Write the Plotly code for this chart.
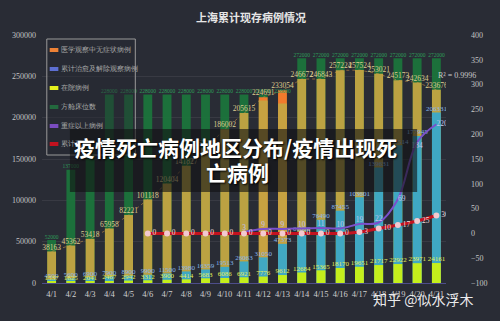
import plotly.graph_objects as go

# ---------------- data ----------------
dates = ["4/1", "4/2", "4/3", "4/4", "4/5", "4/6", "4/7", "4/8", "4/9", "4/10", "4/11",
         "4/12", "4/13", "4/14", "4/15", "4/16", "4/17", "4/18", "4/19", "4/20", "4/21"]
existing = [38163, 45362, 53418, 65958, 82221, 101118, 120404, 141827, 163000, 186002, 205615,
            224691, 233054, 246672, 246843, 257224, 257524, 253021, 245173, 242634, 233676]
asymptomatic_obs = [0, 0, 0, 0, 0, 0, 0, 0, 0, 0, 0,
                    4000, 16000, 0, 0, 0, 0, 0, 0, 0, 0]
capacity = [52000, 137000, 165000, 228000, 228000, 228000, 228000, 228000, 228000, 228000, 228000,
            228000, 228000, 272000, 272000, 272000, 272000, 272000, 272000, 272000, 272000]
cured = [4500, 5600, 6900, 7900, 8900, 9900, 11500, 13980, 16359, 19513, 26063,
         31050, 47373, 61000, 76490, 87455, 103601, 139631, 166514, 177945, 206331]
hospital = [1537, 1825, 2041, 2467, 2942, 3312, 3900, 4414, 5683, 6086, 6921,
            7776, 9612, 12684, 15365, 18170, 19651, 21717, 22922, 23971, 24161]
severe = [None] * 10 + [3, 9, 9, 10, 11, 10, 19, 22, 69, 184, 220]
deaths = [None] * 5 + [0, 0, 0, 0, 0, 0, 0, 0, 0, 0, 0, 3, 10, 17, 25, 36]

left_ticks = [0, 50000, 100000, 150000, 200000, 250000, 300000]
right_ticks = [-100, -50, 0, 50, 100, 150, 200, 250, 300, 350, 400]

legend_names = ["医学观察中无症状病例", "累计治愈及解除观察病例", "在院病例",
                "方舱床位数", "重症以上病例", "累计死亡"]
legend_colors = ["#ee8236", "#5d6fd2", "#e6f21e", "#23693e", "#7a4cc0", "#c3121f"]

title_text = "上海累计现存病例情况"
banner_line1 = "疫情死亡病例地区分布/疫情出现死"
banner_line2 = "亡病例"
watermark = "知乎 @似水浮木"
r2_text = "R² = 0.9996"

# ---------------- layout helpers ----------------
W, H = 500, 321
ML, MR, MT, MB = 38, 42, 35, 38
PW, PH = W - ML - MR, H - MT - MB


def px_x(px):
    return (px - ML) / PW


def px_y(py):
    return (H - MB - py) / PH


SERIF = "Liberation Serif, DejaVu Serif, serif"
CJK = "Noto Sans CJK SC, sans-serif"
BW = 0.46

fig = go.Figure()

# bars (overlay)
fig.add_bar(x=dates, y=capacity, width=BW, marker=dict(color="rgba(27,118,60,0.92)", line_width=0),
            name="方舱床位数", showlegend=False, hoverinfo="skip")
orange_y = [e if a > 0 else None for e, a in zip(existing, asymptomatic_obs)]
fig.add_bar(x=dates, y=orange_y, width=BW, marker=dict(color="#f07a2c", line_width=0),
            name="医学观察中无症状病例", showlegend=False, hoverinfo="skip")
gold_y = [e - a for e, a in zip(existing, asymptomatic_obs)]
fig.add_bar(x=dates, y=gold_y, width=BW, marker=dict(color="rgba(196,164,66,0.95)", line_width=0),
            name="现存", showlegend=False, hoverinfo="skip")
fig.add_bar(x=dates, y=cured, width=BW, marker=dict(color="rgba(50,168,210,0.9)", line_width=0),
            name="累计治愈及解除观察病例", showlegend=False, hoverinfo="skip")
fig.add_bar(x=dates, y=hospital, width=BW, marker=dict(color="#c4ee1c", line_width=0),
            name="在院病例", showlegend=False, hoverinfo="skip")

# dotted connecting line over totals
fig.add_scatter(x=dates, y=existing, mode="lines",
                line=dict(color="rgba(214,150,70,0.55)", width=1, dash="dot"),
                showlegend=False, hoverinfo="skip")

# labels
fig.add_scatter(x=dates, y=capacity, mode="text", text=[str(v) for v in capacity],
                textposition="top center", textfont=dict(size=5.5, color="#2e9e5a", family=SERIF),
                showlegend=False, hoverinfo="skip")
fig.add_scatter(x=dates, y=existing, mode="text", text=[str(v) for v in existing],
                textposition="top center", textfont=dict(size=7.5, color="#dccb8e", family=SERIF),
                showlegend=False, hoverinfo="skip")
fig.add_scatter(x=dates, y=cured, mode="text", text=[str(v) for v in cured],
                textposition="top center", textfont=dict(size=7, color="#88b6ea", family=SERIF),
                showlegend=False, hoverinfo="skip")
fig.add_scatter(x=dates, y=hospital, mode="text", text=[str(v) for v in hospital],
                textposition="top center", textfont=dict(size=7, color="#e2ef58", family=SERIF),
                showlegend=False, hoverinfo="skip")

# lines on right axis
sev_pos = ["top center"] * 18 + ["middle right", "bottom center", "middle right"]
fig.add_scatter(x=dates, y=severe, yaxis="y2", mode="lines+text",
                line=dict(color="#7b50cc", width=2, shape="spline"),
                text=["" if v is None else str(v) for v in severe], textposition=sev_pos,
                textfont=dict(size=7.5, color="#c4c4ee", family=SERIF),
                showlegend=False, hoverinfo="skip")
fig.add_scatter(x=dates, y=deaths, yaxis="y2", mode="lines+markers+text",
                line=dict(color="#c3121f", width=3, shape="spline"),
                marker=dict(size=6, color="#f2c9cf"),
                text=["" if v is None else str(v) for v in deaths], textposition="middle right",
                textfont=dict(size=7.5, color="#f0dede", family=SERIF),
                showlegend=False, hoverinfo="skip")

# ---------------- shapes & annotations ----------------
shapes = []
annotations = []

# legend box
shapes.append(dict(type="rect", xref="paper", yref="paper",
                   x0=px_x(43), x1=px_x(135), y0=px_y(155), y1=px_y(39),
                   fillcolor="rgba(38,41,49,0.45)", line=dict(color="#9a9a9a", width=1), layer="above"))
leg_y = [50, 69, 88, 107, 126, 144]
for name, col, yy in zip(legend_names, legend_colors, leg_y):
    shapes.append(dict(type="line", xref="paper", yref="paper",
                       x0=px_x(46), x1=px_x(55), y0=px_y(yy), y1=px_y(yy),
                       line=dict(color=col, width=4), layer="above"))
    annotations.append(dict(text=name, xref="paper", yref="paper", x=px_x(56), y=px_y(yy),
                            xanchor="left", yanchor="middle", showarrow=False,
                            font=dict(size=7, color="#aaaaaa", family=SERIF)))

# banner overlay
shapes.append(dict(type="rect", xref="paper", yref="paper",
                   x0=px_x(67), x1=px_x(428), y0=px_y(192), y1=px_y(129),
                   fillcolor="rgba(18,18,20,0.62)", line_width=0, layer="above"))
annotations.append(dict(text=banner_line1, xref="paper", yref="paper", x=px_x(239), y=px_y(147),
                        xanchor="center", yanchor="middle", showarrow=False,
                        font=dict(size=21, color="#ffffff", family=CJK, weight="bold",
                                  shadow="1px 1px 2px #000000")))
annotations.append(dict(text=banner_line2, xref="paper", yref="paper", x=px_x(241), y=px_y(172),
                        xanchor="center", yanchor="middle", showarrow=False,
                        font=dict(size=21, color="#ffffff", family=CJK, weight="bold",
                                  shadow="1px 1px 2px #000000")))
# R^2
annotations.append(dict(text=r2_text, xref="paper", yref="paper", x=px_x(448), y=px_y(75),
                        xanchor="left", yanchor="middle", showarrow=False,
                        font=dict(size=8, color="#c8c8c8", family=SERIF)))
# watermark
annotations.append(dict(text=watermark, xref="paper", yref="paper", x=px_x(380), y=px_y(299),
                        xanchor="left", yanchor="middle", showarrow=False,
                        font=dict(size=14, color="rgba(255,255,255,0.92)", family=CJK)))

fig.update_layout(
    width=W, height=H,
    margin=dict(l=ML, r=MR, t=MT, b=MB, pad=0),
    paper_bgcolor="#292c35", plot_bgcolor="rgba(0,0,0,0)",
    barmode="overlay", bargap=0.5,
    title=dict(text=title_text, x=251 / W, y=1 - 18 / H, xanchor="center", yanchor="middle",
               font=dict(size=11, color="#e6e6e6", family=CJK, weight="bold")),
    xaxis=dict(type="category", range=[-0.5, len(dates) - 0.5], showgrid=False,
               showline=True, linecolor="#4d4d8a", linewidth=1, ticks="",
               tickfont=dict(size=8.5, color="#d0d0d0", family=SERIF), ticklabelstandoff=3,
               zeroline=False),
    yaxis=dict(range=[0, 300000], tickvals=left_ticks, tickformat="d", showgrid=True,
               gridcolor="rgba(255,255,255,0.07)", gridwidth=1, zeroline=False,
               tickfont=dict(size=8, color="#c4c4c4", family=SERIF), ticklabelstandoff=5),
    yaxis2=dict(range=[-100, 400], tickvals=right_ticks, tickformat="d", overlaying="y", side="right",
                showgrid=False, zeroline=False,
                tickfont=dict(size=8, color="#c4c4c4", family=SERIF), ticklabelstandoff=24),
    shapes=shapes, annotations=annotations, showlegend=False,
)

fig.write_html("out.html")
